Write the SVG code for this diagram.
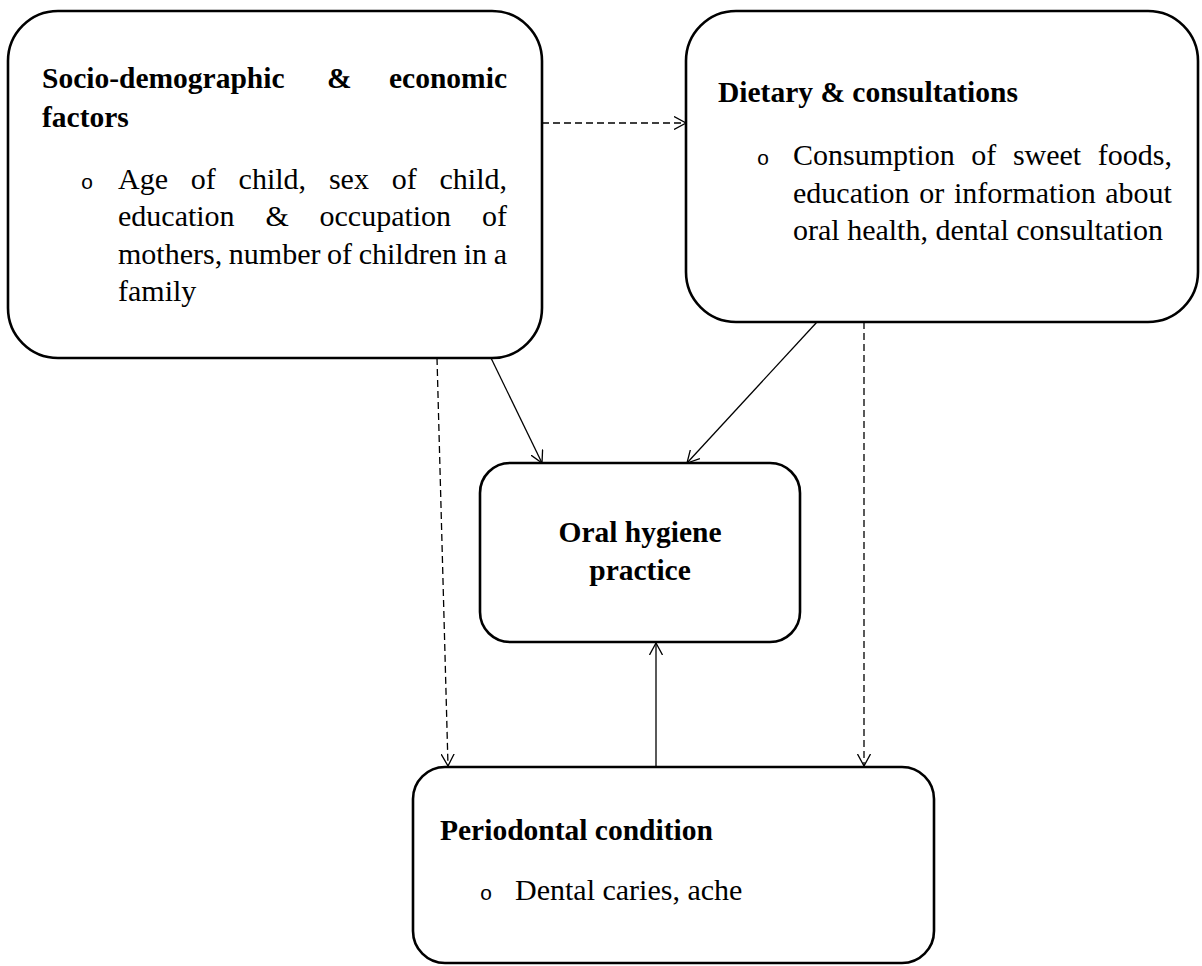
<svg xmlns="http://www.w3.org/2000/svg" width="1202" height="966" viewBox="0 0 1202 966">
<style>
.box{fill:#fff;stroke:#000;stroke-width:2.6}
.h{font-family:"Liberation Serif","Times New Roman",serif;font-weight:bold;font-size:29.5px;fill:#000}
.t{font-family:"Liberation Serif","Times New Roman",serif;font-size:30px;fill:#000}
.b{font-family:"Liberation Mono","Courier New",monospace;font-size:21px;fill:#000;text-anchor:middle}
.c{fill:none;stroke:#000;stroke-width:1.3}
.d{stroke-dasharray:7 4}
</style>
<defs>
<marker id="ah" viewBox="0 0 12 14" refX="12" refY="7" markerWidth="12" markerHeight="14" markerUnits="userSpaceOnUse" orient="auto">
<path d="M0,0.5 L12,7 L0,13.5" fill="none" stroke="#000" stroke-width="1.3"/>
</marker>
</defs>
<g id="connectors">
<line class="c d" x1="542" y1="123" x2="686" y2="123" marker-end="url(#ah)"/>
<line class="c" x1="491" y1="358" x2="542" y2="463" marker-end="url(#ah)"/>
<line class="c" x1="817" y1="322" x2="687" y2="463" marker-end="url(#ah)"/>
<line class="c d" x1="437" y1="358" x2="448" y2="766" marker-end="url(#ah)"/>
<line class="c d" x1="864" y1="322" x2="864" y2="766" marker-end="url(#ah)"/>
<line class="c" x1="656" y1="767" x2="656" y2="643" marker-end="url(#ah)"/>
</g>
<g id="socio">
<rect class="box" x="8" y="11" width="534" height="347" rx="50" ry="50"/>
<text class="h" y="88"><tspan x="42">Socio-demographic</tspan> <tspan x="327">&amp;</tspan> <tspan x="507" text-anchor="end">economic</tspan></text>
<text class="h" x="42" y="127">factors</text>
<text class="b" x="87" y="189">o</text>
<text class="t" y="189"><tspan x="118">Age</tspan> <tspan x="190.8">of</tspan> <tspan x="238.6">child,</tspan> <tspan x="328.9">sex</tspan> <tspan x="391.7">of</tspan> <tspan x="439.5">child,</tspan></text>
<text class="t" y="226"><tspan x="118">education</tspan> <tspan x="265.4">&amp;</tspan> <tspan x="319.5">occupation</tspan> <tspan x="482">of</tspan></text>
<text class="t" y="264"><tspan x="118">mothers,</tspan> <tspan x="228.8">number</tspan> <tspan x="327.1">of</tspan> <tspan x="358.7">children</tspan> <tspan x="463.7">in</tspan> <tspan x="493.7">a</tspan></text>
<text class="t" x="118" y="301">family</text>
</g>
<g id="dietary">
<rect class="box" x="686" y="11" width="512" height="311" rx="50" ry="50"/>
<text class="h" x="718" y="102">Dietary &amp; consultations</text>
<text class="b" x="763" y="165">o</text>
<text class="t" y="165"><tspan x="793">Consumption</tspan> <tspan x="971.3">of</tspan> <tspan x="1012.9">sweet</tspan> <tspan x="1097.8">foods,</tspan></text>
<text class="t" y="203"><tspan x="793">education</tspan> <tspan x="919.3">or</tspan> <tspan x="954">information</tspan> <tspan x="1105.3">about</tspan></text>
<text class="t" x="793" y="240">oral health, dental consultation</text>
</g>
<g id="oral">
<rect class="box" x="480" y="463" width="320" height="179" rx="30" ry="30"/>
<text class="h" x="640" y="542" text-anchor="middle">Oral hygiene</text>
<text class="h" x="640" y="580" text-anchor="middle">practice</text>
</g>
<g id="periodontal">
<rect class="box" x="413" y="767" width="521" height="196" rx="32" ry="32"/>
<text class="h" x="440" y="840">Periodontal condition</text>
<text class="b" x="486" y="900">o</text>
<text class="t" x="515" y="900">Dental caries, ache</text>
</g>
</svg>
